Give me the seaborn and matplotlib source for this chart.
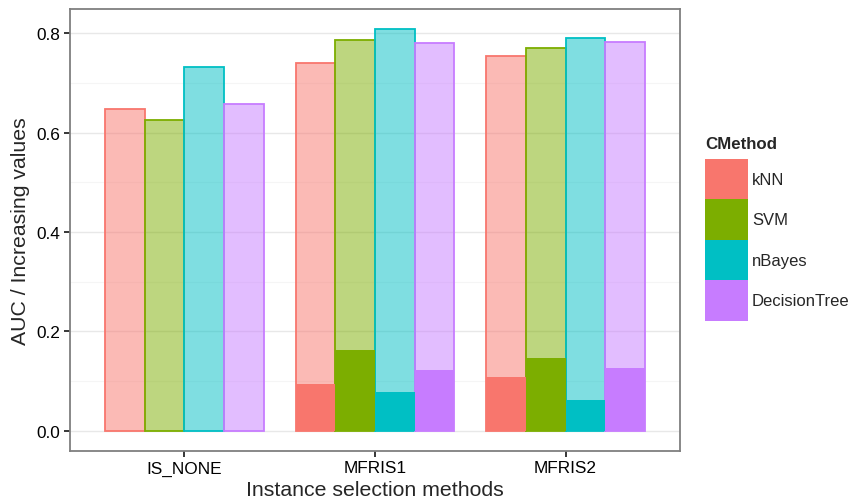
import matplotlib
matplotlib.use("Agg")
import matplotlib.pyplot as plt
from matplotlib.patches import Patch
from matplotlib.ticker import MultipleLocator
import pandas as pd
import seaborn as sns

# values
methods = ["IS_NONE", "MFRIS1", "MFRIS2"]
classifiers = ["kNN", "SVM", "nBayes", "DecisionTree"]
auc_values = {
    "kNN": [0.647, 0.740, 0.754],
    "SVM": [0.626, 0.787, 0.770],
    "nBayes": [0.731, 0.808, 0.791],
    "DecisionTree": [0.658, 0.781, 0.782],
}
increasing_values = {
    "kNN": [0.0, 0.094, 0.109],
    "SVM": [0.0, 0.162, 0.146],
    "nBayes": [0.0, 0.078, 0.062],
    "DecisionTree": [0.0, 0.123, 0.126],
}
colors = ["#F8766D", "#7CAE00", "#00BFC4", "#C77CFF"]

rows = []
for c in classifiers:
    for i, m in enumerate(methods):
        rows.append({"IS": m, "CMethod": c, "AUC": auc_values[c][i], "Inc": increasing_values[c][i]})
df = pd.DataFrame(rows)
palette = dict(zip(classifiers, colors))

sns.set_style("white")
plt.rcParams["font.family"] = ["Liberation Sans", "DejaVu Sans"]

fig = plt.figure(figsize=(8.54, 5.02), dpi=100)
ax = fig.add_axes([70 / 854, 50 / 502, 610 / 854, 442 / 502])

# grid first
ax.set_axisbelow(True)
ax.yaxis.set_major_locator(MultipleLocator(0.2))
ax.yaxis.set_minor_locator(MultipleLocator(0.1))
ax.grid(which="major", color="#E8E8E8", linewidth=1.0)
ax.grid(which="minor", axis="y", color="#F5F5F5", linewidth=0.8)

bw = 0.833
common = dict(data=df, x="IS", hue="CMethod", hue_order=classifiers, order=methods,
              palette=palette, width=bw, errorbar=None, saturation=1, legend=False, ax=ax)

# AUC bars: light fill plus outline
sns.barplot(y="AUC", alpha=0.5, linewidth=0, **common)
sns.barplot(y="AUC", fill=False, linewidth=1.3, **common)
# increasing values: solid bars on top
sns.barplot(y="Inc", linewidth=0, **common)

ax.set_xlim(-0.6, 2.6)
ax.set_ylim(-0.0404, 0.8484)
ax.set_xlabel("Instance selection methods", fontsize=15.3, labelpad=3.5)
ax.set_ylabel("AUC / Increasing values", fontsize=15.3, labelpad=5)
ax.tick_params(axis="both", which="major", labelsize=12.4, length=4.3, width=1.1,
               color="black", labelcolor="black", pad=2.5, left=True, bottom=True)
ax.tick_params(axis="y", which="minor", length=0)
for s in ax.spines.values():
    s.set_color("#7F7F7F")
    s.set_linewidth(1.3)

handles = [Patch(facecolor=c, edgecolor="none") for c in colors]
leg = fig.legend(handles, classifiers, title="CMethod", loc="upper left",
                 bbox_to_anchor=(693.5 / 854, 1 - 125 / 502), frameon=False,
                 fontsize=12.0, title_fontproperties={"weight": "bold", "size": 12.2},
                 handlelength=2.55, handleheight=3.35, labelspacing=0,
                 handletextpad=0.25, borderpad=0.2)
leg._legend_box.align = "left"
leg._legend_box.sep = 6

fig.savefig("out.png", dpi=100)
